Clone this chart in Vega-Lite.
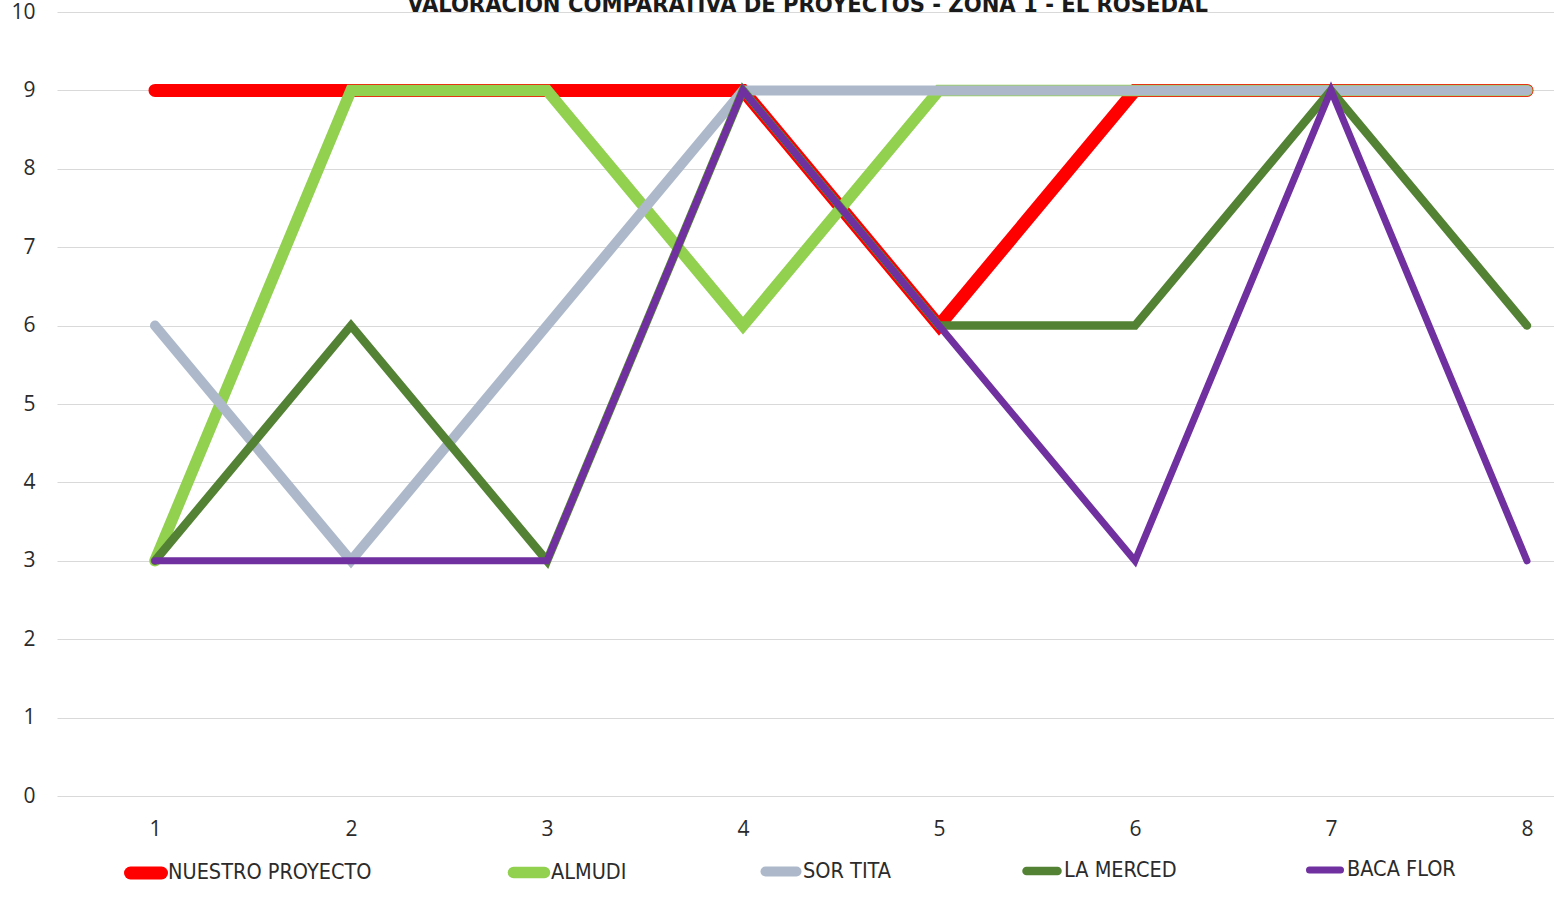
{
  "$schema": "https://vega.github.io/schema/vega-lite/v6.json",
  "width": 1497,
  "height": 784,
  "autosize": {"type": "none"},
  "padding": {"left": 57, "top": 12, "right": 0, "bottom": 103},
  "background": "white",
  "title": {
    "text": "VALORACIÓN COMPARATIVA DE PROYECTOS - ZONA 1 - EL ROSEDAL",
    "anchor": "middle",
    "frame": "group",
    "dx": 2,
    "offset": -15,
    "baseline": "top",
    "font": "DejaVu Sans Condensed, sans-serif",
    "fontSize": 23.5,
    "fontWeight": "bold",
    "color": "#1a1a1a"
  },
  "data": {
    "values": [
      {"p": 1, "s": "NUESTRO PROYECTO", "v": 9},
      {"p": 2, "s": "NUESTRO PROYECTO", "v": 9},
      {"p": 3, "s": "NUESTRO PROYECTO", "v": 9},
      {"p": 4, "s": "NUESTRO PROYECTO", "v": 9},
      {"p": 5, "s": "NUESTRO PROYECTO", "v": 6},
      {"p": 6, "s": "NUESTRO PROYECTO", "v": 9},
      {"p": 7, "s": "NUESTRO PROYECTO", "v": 9},
      {"p": 8, "s": "NUESTRO PROYECTO", "v": 9},
      {"p": 1, "s": "ALMUDI", "v": 3},
      {"p": 2, "s": "ALMUDI", "v": 9},
      {"p": 3, "s": "ALMUDI", "v": 9},
      {"p": 4, "s": "ALMUDI", "v": 6},
      {"p": 5, "s": "ALMUDI", "v": 9},
      {"p": 6, "s": "ALMUDI", "v": 9},
      {"p": 7, "s": "ALMUDI", "v": 9},
      {"p": 8, "s": "ALMUDI", "v": 9},
      {"p": 1, "s": "SOR TITA", "v": 6},
      {"p": 2, "s": "SOR TITA", "v": 3},
      {"p": 3, "s": "SOR TITA", "v": 6},
      {"p": 4, "s": "SOR TITA", "v": 9},
      {"p": 5, "s": "SOR TITA", "v": 9},
      {"p": 6, "s": "SOR TITA", "v": 9},
      {"p": 7, "s": "SOR TITA", "v": 9},
      {"p": 8, "s": "SOR TITA", "v": 9},
      {"p": 1, "s": "LA MERCED", "v": 3},
      {"p": 2, "s": "LA MERCED", "v": 6},
      {"p": 3, "s": "LA MERCED", "v": 3},
      {"p": 4, "s": "LA MERCED", "v": 9},
      {"p": 5, "s": "LA MERCED", "v": 6},
      {"p": 6, "s": "LA MERCED", "v": 6},
      {"p": 7, "s": "LA MERCED", "v": 9},
      {"p": 8, "s": "LA MERCED", "v": 6},
      {"p": 1, "s": "BACA FLOR", "v": 3},
      {"p": 2, "s": "BACA FLOR", "v": 3},
      {"p": 3, "s": "BACA FLOR", "v": 3},
      {"p": 4, "s": "BACA FLOR", "v": 9},
      {"p": 5, "s": "BACA FLOR", "v": 6},
      {"p": 6, "s": "BACA FLOR", "v": 3},
      {"p": 7, "s": "BACA FLOR", "v": 9},
      {"p": 8, "s": "BACA FLOR", "v": 3}
    ]
  },
  "mark": {"type": "line", "strokeCap": "round", "strokeJoin": "miter", "clip": false},
  "encoding": {
    "x": {
      "field": "p",
      "type": "quantitative",
      "scale": {"domain": [0.5, 8.1378], "nice": false, "zero": false},
      "axis": {
        "title": null,
        "values": [1, 2, 3, 4, 5, 6, 7, 8],
        "format": "d",
        "grid": false,
        "domain": false,
        "ticks": false,
        "labelPadding": 22,
        "labelFontSize": 21,
        "labelFont": "Open Sans, sans-serif",
        "labelColor": "#2b2b2b"
      }
    },
    "y": {
      "field": "v",
      "type": "quantitative",
      "scale": {"domain": [0, 10], "nice": false},
      "axis": {
        "title": null,
        "values": [0, 1, 2, 3, 4, 5, 6, 7, 8, 9, 10],
        "grid": true,
        "gridColor": "#d9d9d9",
        "gridWidth": 1,
        "domain": false,
        "ticks": false,
        "labelPadding": 22,
        "labelFontSize": 21,
        "labelFont": "Open Sans, sans-serif",
        "labelColor": "#2b2b2b"
      }
    },
    "color": {
      "field": "s",
      "type": "nominal",
      "scale": {
        "domain": ["NUESTRO PROYECTO", "ALMUDI", "SOR TITA", "LA MERCED", "BACA FLOR"],
        "range": ["#ff0000", "#92d050", "#adb9ca", "#548235", "#7030a0"]
      },
      "legend": {
        "title": null,
        "orient": "none",
        "direction": "horizontal",
        "columns": 5,
        "gridAlign": "none",
        "columnPadding": 118,
        "legendX": 67,
        "legendY": 839,
        "symbolType": "stroke",
        "symbolSize": 961,
        "symbolStrokeWidth": 9,
        "labelOffset": 0,
        "labelFontSize": 21.5,
        "labelFont": "DejaVu Sans Condensed, sans-serif",
        "labelColor": "#2b2b2b",
        "labelLimit": 400,
        "encode": {"symbols": {"update": {"strokeCap": {"value": "round"}}}}
      }
    },
    "strokeWidth": {
      "field": "s",
      "type": "nominal",
      "scale": {
        "domain": ["NUESTRO PROYECTO", "ALMUDI", "SOR TITA", "LA MERCED", "BACA FLOR"],
        "range": [13, 7, 9, 7, 7]
      },
      "legend": null
    },
    "order": {"field": "p", "type": "quantitative"}
  },
  "config": {"view": {"stroke": null}}
}
